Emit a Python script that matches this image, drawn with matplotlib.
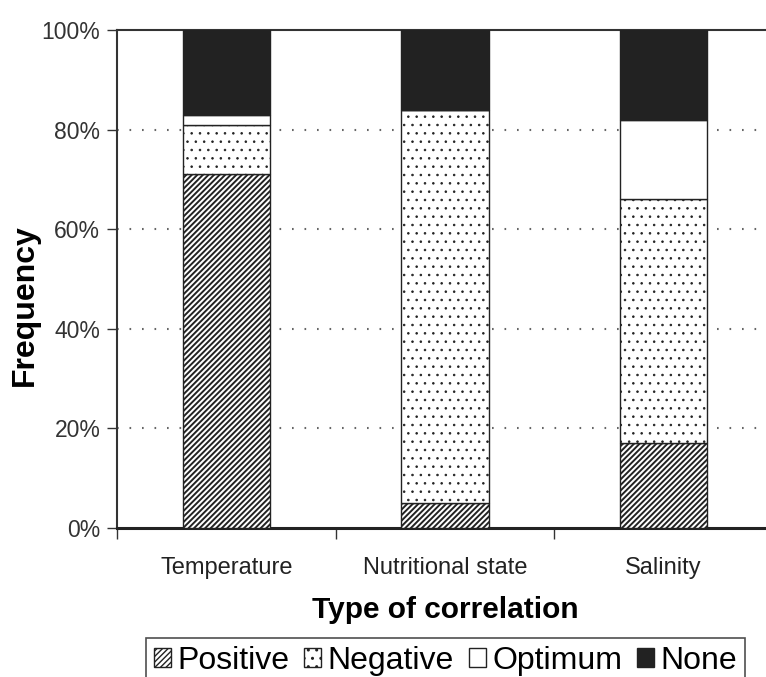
import matplotlib
matplotlib.use("Agg")
import matplotlib.pyplot as plt
from matplotlib.patches import Patch
import numpy as np

categories = ["Temperature", "Nutritional state", "Salinity"]
positive = [71, 5, 17]
negative = [10, 79, 49]
optimum = [2, 0, 16]
none = [17, 16, 18]
series_names = ["Positive", "Negative", "Optimum", "None"]
yticks = [0, 20, 40, 60, 80, 100]
ytick_labels = ["0%", "20%", "40%", "60%", "80%", "100%"]

plt.rcParams['font.family'] = ['Liberation Sans', 'DejaVu Sans']
plt.rcParams['hatch.color'] = '#222222'

fig = plt.figure(figsize=(7.66, 6.77), dpi=100)
ax = fig.add_axes([117/766, 1 - 528/677, (773 - 117)/766, (528 - 30)/677])

x = np.arange(len(categories))
w = 0.4
styles = [
    dict(facecolor='white', hatch='//////'),
    dict(facecolor='white', hatch='..'),
    dict(facecolor='white', hatch=''),
    dict(facecolor='#222222', hatch=''),
]
hatch_lw = [1.4, 0.6, 1.0, 1.0]
handles = []
bottom = np.zeros(len(categories))
for vals, st, hl in zip([positive, negative, optimum, none], styles, hatch_lw):
    plt.rcParams['hatch.linewidth'] = hl
    v = np.array(vals, dtype=float)
    ax.bar(x, v, w, bottom=bottom, edgecolor='#222222', linewidth=1.0, zorder=3, **st)
    handles.append(Patch(edgecolor='#222222', linewidth=1.0, **st))
    bottom += v

ax.set_xlim(-0.5, 2.5)
ax.set_ylim(0, 100)
ax.set_yticks(yticks)
ax.set_yticklabels(ytick_labels, fontsize=16.5, color='#333333')
ax.set_xticks(x)
ax.set_xticklabels(categories, fontsize=17, color='#222222')
ax.set_xticks([-0.5, 0.5, 1.5], minor=True)
ax.tick_params(axis='x', which='major', length=0, pad=21)
ax.tick_params(axis='x', which='minor', length=8, width=1, color='#333333', direction='out')
ax.tick_params(axis='y', length=7, width=1, color='#333333', direction='out', pad=5)

for yv in [20, 40, 60, 80]:
    ax.axhline(yv, color='#666666', linestyle=(0, (0.8, 5.2)), linewidth=1.5, zorder=1)

for s in ['left', 'top']:
    ax.spines[s].set_linewidth(1.5)
    ax.spines[s].set_color('#333333')
ax.spines['bottom'].set_linewidth(2.2)
ax.spines['bottom'].set_color('#222222')
ax.spines['right'].set_visible(False)

ax.set_ylabel("Frequency", fontsize=23, fontweight='bold')
ax.yaxis.set_label_coords(-0.117, 0.448)
ax.set_xlabel("Type of correlation", fontsize=21.5, fontweight='bold', labelpad=12)

leg = fig.legend(handles, series_names, loc='upper center',
                 bbox_to_anchor=(445.5/766, 1 - 638/677),
                 ncol=4, fontsize=23, frameon=True, fancybox=False,
                 edgecolor='#222222', handlelength=0.55, handleheight=0.55,
                 handletextpad=0.2, columnspacing=0.45, borderpad=0.25, borderaxespad=0)
leg.get_frame().set_linewidth(1.2)

fig.savefig("out.png", dpi=100)
